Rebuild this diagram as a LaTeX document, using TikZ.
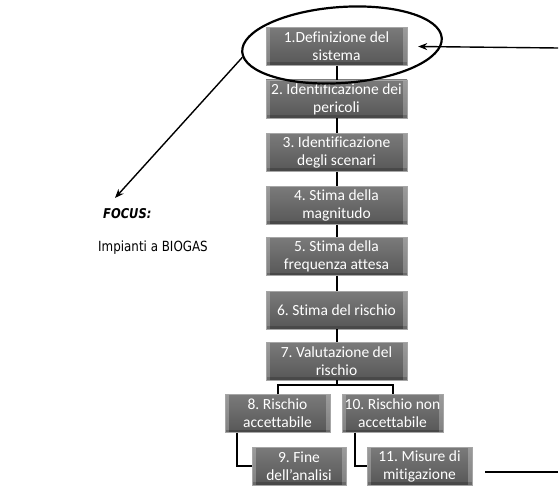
\documentclass[tikz,border=0pt]{standalone}
\usepackage{fontspec}
\setmainfont{Carlito}[Ligatures=NoCommon]
\newfontfamily\notefont[FakeStretch=0.85]{DejaVu Sans}
\usetikzlibrary{arrows.meta,shapes.geometric}
\frenchspacing

% a label line allowed to run past the box edges
\newcommand\wideline[1]{\makebox[0pt]{#1}}

\tikzset{
  stepbox/.style={
    minimum width=141pt, minimum height=38pt, inner sep=1pt,
    align=center, text=white, font=\fontsize{15.5}{18}\selectfont,
    top color=black!52, bottom color=black!66, draw=black!35,
    path picture={
      \fill[white,opacity=0.25]
        (path picture bounding box.north west) rectangle
        ([xshift=4pt]path picture bounding box.south west);
      \fill[white,opacity=0.25]
        (path picture bounding box.north east) rectangle
        ([xshift=-4pt]path picture bounding box.south east);
      \fill[black,opacity=0.18]
        (path picture bounding box.south west) rectangle
        ([yshift=3pt]path picture bounding box.south east);
    }},
  smallbox/.style={stepbox, minimum width=#1},
  link/.style={line width=2pt, black},
  pointer/.style={line width=1.4pt, black, -{Stealth[length=9pt,width=7pt]}},
}

\begin{document}
\begin{tikzpicture}[x=1pt, y=-1pt]
\useasboundingbox (0,0) rectangle (559,486);

% main chain of steps
\node[stepbox] (b1) at (336.5,46.5) {1.Definizione del\\sistema};
\node[stepbox] (b2) at (336.5,99)   {\wideline{2. Identificazione dei}\\pericoli};
\node[stepbox] (b3) at (336.5,152.5) {3. Identificazione\\degli scenari};
\node[stepbox] (b4) at (336.5,205.5) {4. Stima della\\magnitudo};
\node[stepbox] (b5) at (336.5,256.5) {5. Stima della\\frequenza attesa};
\node[stepbox] (b6) at (336.5,310)   {6. Stima del rischio};
\node[stepbox] (b7) at (336.5,361)   {7. Valutazione del\\rischio};

% branches
\node[smallbox=105pt] (b8)  at (277.5,413.5) {8. Rischio\\accettabile};
\node[smallbox=101pt] (b10) at (392.5,413.5) {\wideline{10. Rischio non}\\accettabile};
\node[smallbox=94pt]  (b9)  at (299,466)     {9. Fine\\dell'analisi};
\node[smallbox=105pt] (b11) at (419.5,466)   {11. Misure di\\mitigazione};

% connectors
\foreach \a/\b in {b1/b2,b2/b3,b3/b4,b4/b5,b5/b6,b6/b7}
  \draw[link] (\a.south) -- (\b.north);
\coordinate (split) at (336.5,385);
\draw[link] (b7.south) -- (split);
\draw[link] (b8.north) |- (split) -| (b10.north);
\draw[link] ([xshift=12pt]b8.south west) |- (b9.west);
\draw[link] ([xshift=13pt]b10.south west) |- (b11.west);

% loose line on the right
\coordinate (r1) at (485,472);
\coordinate (r2) at (558,472);
\draw[link] (r1) -- (r2);

% highlight ring around the first step
\node[ellipse, draw, line width=2.2pt, minimum width=200pt, minimum height=76pt,
      rotate=4] (ring) at (342,45) {};
\coordinate (rin) at (558,48);
\draw[pointer] (rin) -- ([xshift=11pt]b1.east);

% focus note
\node[anchor=west, inner sep=0pt, font=\notefont\bfseries\itshape\fontsize{13.5}{15}\selectfont]
  (focus) at (103,214) {FOCUS:};
\node[anchor=west, inner sep=0pt, font=\notefont\fontsize{14}{16}\selectfont]
  (plant) at (98,248) {Impianti a BIOGAS};
\coordinate (focustip) at (115,198);
\draw[pointer] (ring.183) -- (focustip);
\end{tikzpicture}
\end{document}
